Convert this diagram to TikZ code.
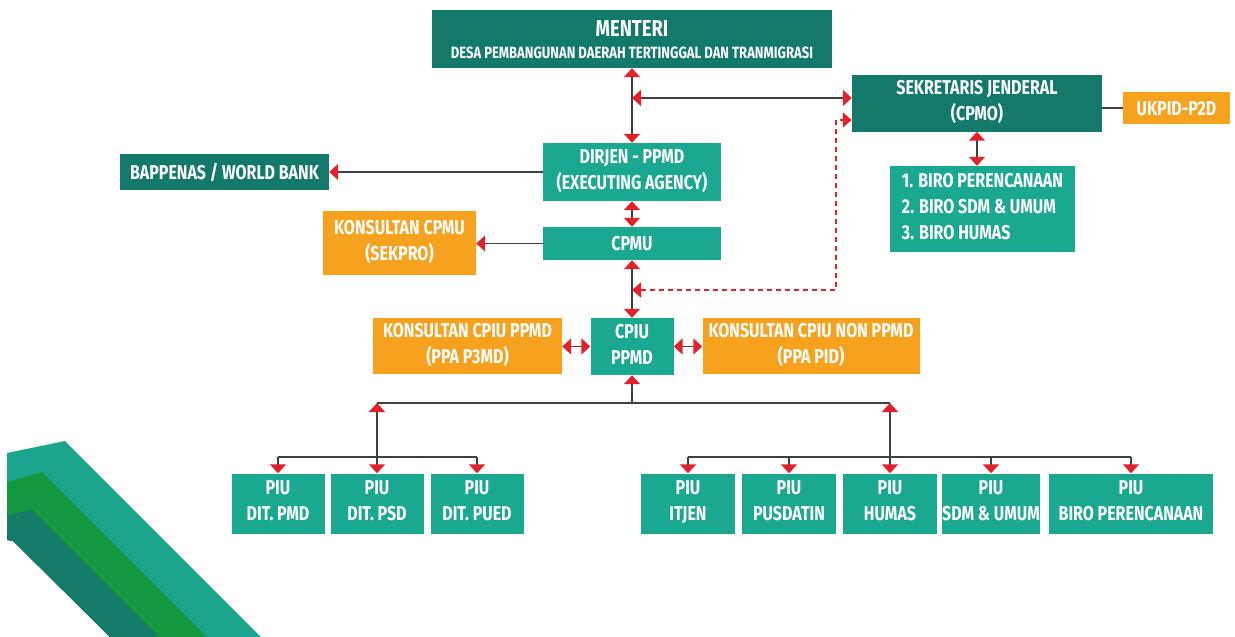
\documentclass[tikz,border=0pt]{standalone}
\usepackage{fontspec}
\setmainfont{Fira Sans}[FakeStretch=0.8]
\usetikzlibrary{arrows.meta,calc}
\definecolor{dgreen}{HTML}{13796A}
\definecolor{tealb}{HTML}{1BA891}
\definecolor{orng}{HTML}{F6A21E}
\definecolor{stripeg}{HTML}{14983F}
\definecolor{stripet}{HTML}{1BA58F}
\definecolor{striped}{HTML}{167A68}
\definecolor{arrred}{HTML}{E2212B}
\definecolor{lin}{HTML}{404040}
\begin{document}
\begin{tikzpicture}[x=1pt,y=-1pt,
  box/.style={inner sep=0pt, align=center, text=white, font=\bfseries\fontsize{20}{26}\selectfont,
    execute at begin node=\rule{0pt}{19.5pt}, execute at end node=\rule[-5pt]{0pt}{5pt}},
  dk/.style={box, fill=dgreen},
  tl/.style={box, fill=tealb},
  og/.style={box, fill=orng},
  piu/.style={tl, minimum height=60pt},
  conn/.style={draw=lin, line width=1.7pt, >={Triangle[width=16pt,length=9pt,color=arrred]}},
  reddash/.style={draw=arrred, line width=1.3pt, dash pattern=on 5pt off 4pt, >={Triangle[width=15pt,length=9pt,color=arrred]}}
]
\useasboundingbox (0,0) rectangle (1235,637);
\fill[white] (0,0) rectangle (1235,637);

% decorative stripes
\fill[stripet] (7,453)--(65,441)--(261,637)--(110,637)--(13,541)--(7,540)--cycle;
\fill[stripeg] (7,482)--(42,472)--(207,637)--(110,637)--(13,541)--(7,540)--cycle;
\fill[striped] (7,515)--(32,510)--(159,637)--(110,637)--(13,541)--(7,540)--cycle;

% nodes
\node[dk, minimum width=400pt, minimum height=58pt, execute at begin node={}, execute at end node={}] (menteri) at (632,39)
  {\rule{0pt}{21pt}{\fontsize{23}{24}\selectfont MENTERI}\\[-4pt]{\fontsize{16.3}{17}\selectfont DESA PEMBANGUNAN DAERAH TERTINGGAL DAN TRANMIGRASI}};
\node[dk, minimum width=250pt, minimum height=57pt] (sj) at (977,103) {SEKRETARIS JENDERAL\\(CPMO)};
\node[og, minimum width=107pt, minimum height=32pt] (ukpid) at (1176.5,108) {UKPID-P2D};
\node[tl, minimum width=185pt, minimum height=86pt, align=left] (biro) at (982.5,209)
  {1. BIRO PERENCANAAN\\2. BIRO SDM \& UMUM\\3. BIRO HUMAS};
\node[tl, minimum width=178pt, minimum height=58pt] (dirjen) at (632,172) {DIRJEN - PPMD\\(EXECUTING AGENCY)};
\node[dk, minimum width=209pt, minimum height=36pt] (bap) at (224.5,172) {BAPPENAS / WORLD BANK};
\node[og, minimum width=153pt, minimum height=64pt] (kcpmu) at (399.5,243) {KONSULTAN CPMU\\(SEKPRO)};
\node[tl, minimum width=178pt, minimum height=33pt] (cpmu) at (632,243.5) {CPMU};
\node[tl, minimum width=83pt, minimum height=57pt] (cpiu) at (632,346.5) {CPIU\\PPMD};
\node[og, minimum width=189pt, minimum height=56pt] (k1) at (467.5,345.5) {KONSULTAN CPIU PPMD\\(PPA P3MD)};
\node[og, minimum width=217pt, minimum height=56pt] (k2) at (811,345.5) {KONSULTAN CPIU NON PPMD\\(PPA PID)};

\node[piu, minimum width=93pt] (pmd) at (278,503.5) {PIU\\DIT. PMD};
\node[piu, minimum width=93pt] (psd) at (377,503.5) {PIU\\DIT. PSD};
\node[piu, minimum width=93pt] (pued) at (477,503.5) {PIU\\DIT. PUED};

\node[piu, minimum width=94pt] (itjen) at (688,503.5) {PIU\\ITJEN};
\node[piu, minimum width=94pt] (pusdatin) at (789,503.5) {PIU\\PUSDATIN};
\node[piu, minimum width=94pt] (humas) at (890,503.5) {PIU\\HUMAS};
\node[piu, minimum width=98pt] (sdm) at (991,503.5) {PIU\\SDM \& UMUM};
\node[piu, minimum width=164pt] (birop) at (1131,503.5) {PIU\\BIRO PERENCANAAN};

% junction coordinates
\coordinate (j1) at (632,98);
\coordinate (d1) at (632,290);
\coordinate (d2) at (836,120);
\coordinate (busL) at (377,403);
\coordinate (busR) at (890,403);
\coordinate (sb) at (0,457);

% connectors
\draw[conn,<->] (menteri.south) -- (dirjen.north);
\draw[conn,<->] (j1) -- (j1 -| sj.west);
\draw[conn] (sj.east |- ukpid.west) -- (ukpid.west);
\draw[conn,<->] (sj.south) -- (sj.south |- biro.north);
\draw[conn,->] (dirjen.west) -- (bap.east);
\draw[conn,<->] (dirjen.south) -- (cpmu.north);
\draw[conn,->] (cpmu.west) -- (cpmu.west -| kcpmu.east);
\draw[conn,<->] (cpmu.south) -- (cpiu.north);
\draw[reddash,<->] (d1) -| (d2) -- (d2 -| sj.west);
\draw[conn,<->] (cpiu.west) -- (cpiu.west -| k1.east);
\draw[conn,<->] (cpiu.east) -- (cpiu.east -| k2.west);
\draw[conn,->] (cpiu.south |- busL) -- (cpiu.south);
\draw[conn] (busL) -- (busR);
\draw[conn,<->] (busL) -- (psd.north);
\draw[conn,<->] (busR) -- (humas.north);
\draw[conn] (pmd.north |- sb) -- (pued.north |- sb);
\draw[conn,->] (pmd.north |- sb) -- (pmd.north);
\draw[conn,->] (pued.north |- sb) -- (pued.north);
\draw[conn] (itjen.north |- sb) -- (birop.north |- sb);
\draw[conn,->] (itjen.north |- sb) -- (itjen.north);
\draw[conn,->] (pusdatin.north |- sb) -- (pusdatin.north);
\draw[conn,->] (sdm.north |- sb) -- (sdm.north);
\draw[conn,->] (birop.north |- sb) -- (birop.north);
\end{tikzpicture}
\end{document}
